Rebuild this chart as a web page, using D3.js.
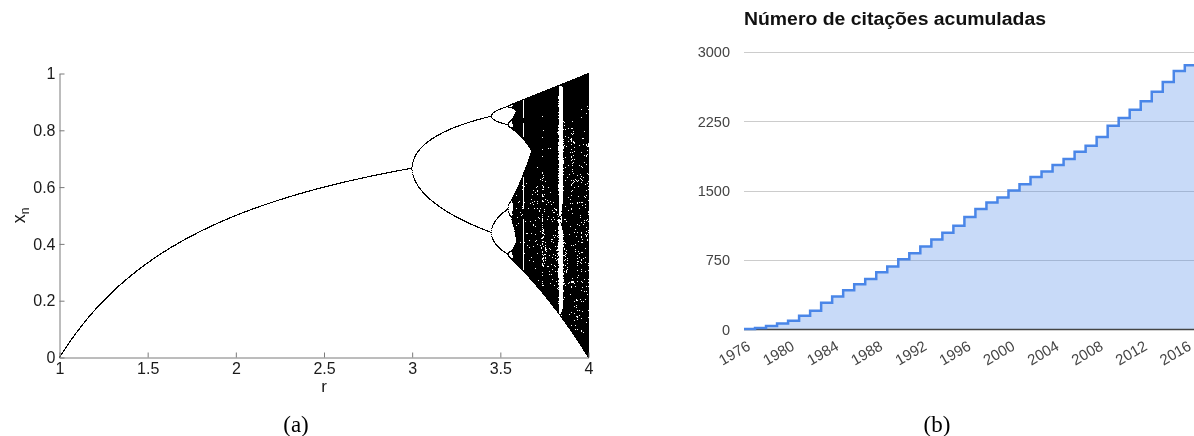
<!DOCTYPE html>
<html><head><meta charset="utf-8">
<script src="https://cdn.jsdelivr.net/npm/d3@7"></script>
<style>
html,body{margin:0;padding:0;background:#fff;}
#wrap{position:relative;width:1194px;height:436px;overflow:hidden;background:#fff;}
canvas,svg{position:absolute;left:0;top:0;}
</style></head><body>
<div id="wrap"><canvas id="bif" width="1194" height="436"></canvas><svg id="chart" width="1194" height="436"></svg></div>
<script>
// ---------- Panel (a): logistic-map bifurcation diagram ----------
const rDomain = [1, 4];
const xnDomain = [0, 1];
const rTicks = [1, 1.5, 2, 2.5, 3, 3.5, 4];
const xnTicks = [0, 0.2, 0.4, 0.6, 0.8, 1];
const startValue = [0.31];
const transientSteps = [600];
const plottedSteps = [400];
const samplesPerPixel = [3];

// ---------- Panel (b): cumulative citations ----------
const years = ["1976","1977","1978","1979","1980","1981","1982","1983","1984","1985",
  "1986","1987","1988","1989","1990","1991","1992","1993","1994","1995",
  "1996","1997","1998","1999","2000","2001","2002","2003","2004","2005",
  "2006","2007","2008","2009","2010","2011","2012","2013","2014","2015","2016"];
const citations = [5, 15, 38, 65, 95, 150, 204, 290, 358, 425,
  490, 547, 620, 680, 760, 825, 897, 972, 1045, 1121,
  1215, 1302, 1373, 1428, 1503, 1570, 1648, 1709, 1778, 1843,
  1922, 1987, 2081, 2204, 2287, 2377, 2467, 2569, 2677, 2795, 2857];
const yearTickLabels = ["1976","1980","1984","1988","1992","1996","2000","2004","2008","2012","2016"];
const citationTicks = [0, 750, 1500, 2250, 3000];
const chartTitle = "Número de citações acumuladas";
const panelLabels = ["(a)", "(b)"];

const W = 1194, H = 436;
const svg = d3.select("#chart");

// ===== Panel (a) =====
const xL = d3.scaleLinear().domain(rDomain).range([59.5, 588.5]);
const yL = d3.scaleLinear().domain(xnDomain).range([357.5, 73.5]);

(function drawBifurcation(){
  const canvas = document.getElementById("bif");
  const ctx = canvas.getContext("2d");
  const counts = new Uint32Array(W * H);
  const p0 = xL(rDomain[0]), p1 = xL(rDomain[1]);
  const n = Math.round((p1 - p0) * samplesPerPixel[0]);
  for (let i = 0; i <= n; i++) {
    const r = xL.invert(p0 + i / samplesPerPixel[0]);
    let x = startValue[0];
    for (let t = 0; t < transientSteps[0]; t++) x = r * x * (1 - x);
    const cx = Math.min(Math.floor(xL(r)), 588);
    for (let t = 0; t < plottedSteps[0]; t++) {
      x = r * x * (1 - x);
      const cy = Math.floor(yL(x));
      if (cy >= 0 && cy < H && cx >= 0 && cx < W) counts[cy * W + cx]++;
    }
  }
  const img = ctx.createImageData(W, H);
  for (let k = 0; k < W * H; k++) {
    const v = counts[k] > 0 ? 0 : 255;
    img.data[k*4] = v; img.data[k*4+1] = v; img.data[k*4+2] = v; img.data[k*4+3] = 255;
  }
  ctx.putImageData(img, 0, 0);
})();

const font = "'Liberation Sans', Arial, sans-serif";
const gA = svg.append("g");
const axY = gA.append("g").attr("transform", `translate(${xL(rDomain[0])},0)`)
  .call(d3.axisLeft(yL).tickValues(xnTicks).tickFormat(d3.format("~g"))
    .tickSizeInner(-5).tickSizeOuter(0).tickPadding(4));
const axX = gA.append("g").attr("transform", `translate(0,${yL(0)})`)
  .call(d3.axisBottom(xL).tickValues(rTicks).tickFormat(d3.format("~g"))
    .tickSizeInner(-5).tickSizeOuter(0).tickPadding(5.5));
[axY, axX].forEach(a => {
  a.select(".domain").attr("stroke", "#7a7a7a").attr("stroke-width", 1);
  a.selectAll(".tick line").attr("stroke", "#7a7a7a");
  a.selectAll(".tick text").attr("fill", "#1a1a1a")
    .style("font-family", font).style("font-size", "16px");
});
gA.append("text").attr("x", (xL(rDomain[0]) + xL(rDomain[1])) / 2).attr("y", 392)
  .attr("text-anchor", "middle").attr("fill", "#1a1a1a")
  .style("font-family", font).style("font-size", "17px")
  .text("r");
const yLab = gA.append("text").attr("transform", `translate(25,${yL(0.5)}) rotate(-90)`)
  .attr("text-anchor", "middle").attr("fill", "#1a1a1a")
  .style("font-family", font).style("font-size", "18px");
yLab.append("tspan").text("x");
yLab.append("tspan").attr("dy", 4).style("font-size", "12px").text("n");

// ===== Panel (b) =====
const xB = d3.scaleBand().domain(years).range([744, 744 + 11.02 * years.length]).padding(0);
const yB = d3.scaleLinear().domain([0, 3000]).range([329.5, 52]);
const bw = xB.bandwidth();
const gB = svg.append("g");

gB.append("text").attr("x", 744).attr("y", 24.5).attr("fill", "#111")
  .attr("textLength", 302).attr("lengthAdjust", "spacingAndGlyphs")
  .style("font-family", font).style("font-size", "18px").style("font-weight", "bold")
  .text(chartTitle);

gB.selectAll("line.grid").data(citationTicks.filter(d => d > 0)).join("line")
  .attr("class", "grid").attr("x1", 744).attr("x2", W)
  .attr("y1", d => Math.round(yB(d)) + 0.5).attr("y2", d => Math.round(yB(d)) + 0.5)
  .attr("stroke", "#cccccc").attr("stroke-width", 1);

gB.selectAll("text.ylab").data(citationTicks).join("text")
  .attr("class", "ylab").attr("x", 730).attr("y", d => yB(d)).attr("dy", "0.36em")
  .attr("text-anchor", "end").attr("fill", "#444")
  .style("font-family", font).style("font-size", "14.5px")
  .text(d => d);

const pts = years.flatMap((yr, i) => [[xB(yr), yB(citations[i])], [xB(yr) + bw, yB(citations[i])]]);
gB.append("path").datum(pts)
  .attr("d", d3.area().x(d => d[0]).y0(yB(0)).y1(d => d[1]))
  .attr("fill", "#4a86e8").attr("fill-opacity", 0.3);
gB.append("line").attr("x1", 744).attr("x2", W).attr("y1", yB(0)).attr("y2", yB(0))
  .attr("stroke", "#444").attr("stroke-width", 1.4);
gB.append("path").datum(pts)
  .attr("d", d3.line().x(d => d[0]).y(d => d[1]))
  .attr("fill", "none").attr("stroke", "#4a86e8").attr("stroke-width", 2.5);

gB.selectAll("text.xlab").data(yearTickLabels).join("text")
  .attr("class", "xlab")
  .attr("transform", d => `translate(${xB(d) + bw / 2 + 2},349) rotate(-30)`)
  .attr("text-anchor", "end").attr("fill", "#444")
  .style("font-family", font).style("font-size", "15px")
  .text(d => d);

// ===== Panel captions =====
svg.selectAll("text.cap").data(panelLabels).join("text")
  .attr("class", "cap")
  .attr("x", (d, i) => [296, 937][i]).attr("y", 432)
  .attr("text-anchor", "middle").attr("fill", "#000")
  .style("font-family", "'Liberation Serif', 'Times New Roman', serif").style("font-size", "23px")
  .text(d => d);
</script>
</body></html>
